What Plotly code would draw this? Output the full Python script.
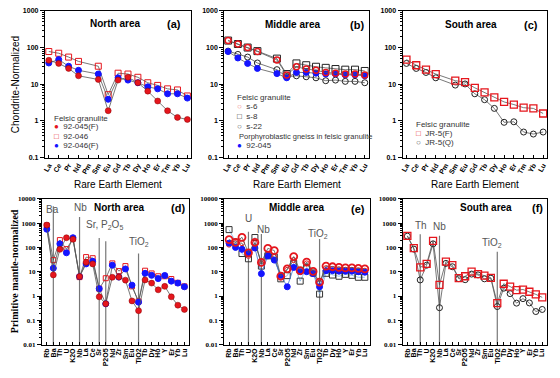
import numpy as np
import plotly.graph_objects as go

W, H = 560, 378

ree = ['La','Ce','Pr','Nd','Pm','Sm','Eu','Gd','Tb','Dy','Ho','Er','Tm','Yb','Lu']
spider = ['Rb','Ba','Th','U','K2O','Nb','La','Ce','Sr','P2O5','Nd','Zr','Sm','Eu','TiO2',
          'Tb','Dy','Ho','Y','Er','Yb','Lu']

# (a) North area, chondrite-normalized
a_92045F = [45,37,27,17,None,13.5,1.9,13,15.5,11,6.5,3.5,1.9,1.25,1.1]
a_92046  = [78,70,55,42,None,31,5.2,20,19,15.5,11,9.3,7.5,7,4.8]
a_92046F = [38,47,31,24,None,19,3.9,15,13,11,8.5,7.5,5.5,5.5,4.2]
# (b) Middle area
b_s6    = [155,125,100,78,None,46,18,30,26,24,21,20,19,19,18]
b_s8    = [155,125,100,80,None,50,19,37,33,30,28,26,25,25,23]
b_s22   = [80,65,55,38,None,25,16,17,16,15,12.5,13,12,12,11]
b_92045 = [78,52,37,27,None,19.5,15,21,21,20,19,19,18,18,17]
# (c) South area
c_JR5F = [47,33,25,19,None,12.5,11.5,8,6,4.4,3.3,2.8,2.3,2.2,1.6]
c_JR5Q = [37,27,21,15,None,9.5,10.2,5.5,3.8,2.2,0.92,0.95,0.5,0.44,0.5]

# (d) North area, primitive mantle-normalized
d_92045F = [830,7.4,83,250,215,6.3,24.5,21,0.93,0.48,5.9,6,4.5,0.63,0.25,4.6,3.4,1.8,2.5,0.93,0.42,0.28]
d_92046  = [800,30,200,85,230,6,40,36,2,5.4,22,10.6,17,2.5,0.6,11,8.5,6.5,6.5,5,3.5,2.5]
d_92046F = [560,14,140,60,250,6.3,21,27,2,0.48,18.5,6,13,2.8,0.56,8.6,7.1,5.2,7,4.1,3.4,2.4]
# (e) Middle area
e_s6    = [210,160,260,60,160,24,91,74,6.5,13,42,11,25,10.3,3.7,17,16,15,14.5,14.5,13.6,13]
e_s8    = [540,165,56,34,255,17,45,40,5.1,6.9,22,4.1,15,8.9,1.2,8.6,7.3,6.5,7.8,7.1,5.9,5.9]
e_s22   = [130,150,150,45,150,22,50,40,6,12,30,10,22,9,3.5,14,13,12.5,12,12,11.5,11]
e_92045 = [150,100,83,56,94,8.3,45,30,7.1,2.4,15,10,10,8.3,2.4,11,11,10.5,10.5,10.5,10,9.5]
# (f) South area
f_JR5F = [300,94,15,21,185,2.9,26,18.5,5.4,6.5,10,8,6.9,5.6,0.51,3.2,2.45,1.74,1.85,1.5,1.17,0.88]
f_JR5Q = [290,85,4.6,18.5,140,0.33,22,16,5.2,4.7,8,7.4,5.1,5.4,0.37,2.1,1.25,0.51,0.78,0.52,0.23,0.28]

# reference (anomaly) lines: element, top value
d_marks = [('Ba', 4900), ('Nb', 1800), ('Sr', 245), ('P2O5', 180), ('TiO2', 56)]
e_marks = [('U', 440), ('Nb', 355), ('TiO2', 220)]
f_marks = [('Th', 350), ('Nb', 300), ('TiO2', 66)]

RED = '#e5161d'
DRED = '#8a0000'
BLUE = '#1414ff'
LINE = '#555555'

fig = go.Figure()

def px_x(x): return x / W
def px_y(y): return 1 - y / H

# panel domains in pixels: (left, right, top, bottom)
panels = {
    1: (43, 190, 7, 157),
    2: (223, 368, 7, 157),
    3: (402, 547, 7, 157),
    4: (40, 188, 199, 348),
    5: (223, 369, 199, 348),
    6: (402, 547, 199, 348),
}

def add_series(k, cats, vals, symbol, color, lcolor=None, size=6, lw=0.8, mlw=1.0, linecol=LINE):
    xs = list(range(len(cats)))
    xa = 'x%d' % k if k > 1 else 'x'
    ya = 'y%d' % k if k > 1 else 'y'
    fig.add_trace(go.Scatter(x=xs, y=vals, mode='lines', connectgaps=True,
                             line=dict(color=linecol, width=lw), showlegend=False,
                             xaxis=xa, yaxis=ya))
    fig.add_trace(go.Scatter(x=xs, y=vals, mode='markers', showlegend=False,
                             marker=dict(symbol=symbol, size=size, color=color,
                                         line=dict(color=lcolor or color, width=mlw)),
                             xaxis=xa, yaxis=ya))

def add_marks(k, marks):
    for el, top in marks:
        i = spider.index(el)
        fig.add_trace(go.Scatter(x=[i, i], y=[0.01, top], mode='lines', showlegend=False,
                                 line=dict(color='#777777', width=1.2),
                                 xaxis='x%d' % k, yaxis='y%d' % k))

# vertical lines first (behind)
add_marks(4, d_marks)
add_marks(5, e_marks)
add_marks(6, f_marks)

# (a)
add_series(1, ree, a_92046, 'square-open', RED, size=6)
add_series(1, ree, a_92046F, 'circle', BLUE, size=6)
add_series(1, ree, a_92045F, 'circle', RED, lcolor=DRED, size=6, mlw=0.5)
# (b)
add_series(2, ree, b_s8, 'square-open', '#222222', size=7)
add_series(2, ree, b_s22, 'circle-open', '#222222', size=6)
add_series(2, ree, b_92045, 'circle', BLUE, size=6)
add_series(2, ree, b_s6, 'circle-open', RED, size=6, mlw=1.5)
# (c)
add_series(3, ree, c_JR5Q, 'circle-open', '#222222', size=6)
add_series(3, ree, c_JR5F, 'square-open', RED, size=7, mlw=1.3)
# (d)
add_series(4, spider, d_92046, 'square-open', RED, size=5)
add_series(4, spider, d_92046F, 'circle', BLUE, size=6)
add_series(4, spider, d_92045F, 'circle', RED, lcolor=DRED, size=6, mlw=0.5)
# (e)
add_series(5, spider, e_s8, 'square-open', '#333333', size=6, linecol='#7fb2e5')
add_series(5, spider, e_s22, 'circle-open', RED, size=5, mlw=1.0)
add_series(5, spider, e_92045, 'circle', BLUE, size=6, linecol='#3d6fd6')
add_series(5, spider, e_s6, 'circle-open', RED, size=7, mlw=1.8)
# (f)
add_series(6, spider, f_JR5Q, 'circle-open', '#222222', size=6)
add_series(6, spider, f_JR5F, 'square-open', RED, size=7, mlw=1.3)

def minor_vals(lo, hi):
    out = []
    for e in range(lo, hi):
        for m in range(2, 10):
            out.append(m * 10.0 ** e)
    return out

top_font = dict(family='Liberation Sans, Arial', size=7, color='black', weight='bold')
bot_font = dict(family='Liberation Serif, Times New Roman', size=7, color='black', weight='bold')

layout = dict(width=W, height=H, margin=dict(l=0, r=0, t=0, b=0),
              paper_bgcolor='white', plot_bgcolor='white', showlegend=False)

for k, (l, r, t, b) in panels.items():
    xn = 'xaxis' if k == 1 else 'xaxis%d' % k
    yn = 'yaxis' if k == 1 else 'yaxis%d' % k
    top = k <= 3
    cats = ree if top else spider
    n = len(cats)
    pad = 0.4 if top else 0.75
    layout[xn] = dict(domain=[px_x(l), px_x(r)], range=[-pad, n - 1 + pad],
                      anchor='y' if k == 1 else 'y%d' % k,
                      tickmode='array', tickvals=list(range(n)), ticktext=cats,
                      tickangle=-60 if top else -90,
                      ticks='inside', ticklen=3, tickcolor='black', tickwidth=1,
                      showline=True, linecolor='black', linewidth=1, mirror=True,
                      showgrid=False, zeroline=False,
                      tickfont=dict(family='Liberation Sans, Arial', size=7, color='black', weight='bold'))
    if top:
        yr, tv, tt = [-1, 3], [0.1, 1, 10, 100, 1000], ['0.1', '1', '10', '100', '1000']
        mv = minor_vals(-1, 3)
        tf = top_font
    else:
        yr, tv, tt = [-2, 4], [0.01, 0.1, 1, 10, 100, 1000, 10000], \
            ['0.01', '0.1', '1', '10', '100', '1000', '10000']
        mv = minor_vals(-2, 4)
        tf = bot_font
    layout[yn] = dict(domain=[px_y(b), px_y(t)], type='log', range=yr,
                      anchor='x' if k == 1 else 'x%d' % k,
                      tickmode='array', tickvals=tv, ticktext=tt,
                      ticks='outside', ticklen=4, tickcolor='black', tickwidth=1,
                      minor=dict(tickmode='array', tickvals=mv, ticks='outside', ticklen=2,
                                 tickcolor='black', tickwidth=0.8, showgrid=False),
                      showline=True, linecolor='black', linewidth=1, mirror=True,
                      showgrid=False, zeroline=False, tickfont=tf)

fig.update_layout(**layout)

ann = []
def A(x, y, text, size=10, bold=False, color='black', family='Liberation Sans, Arial',
      xanchor='center', yanchor='middle', angle=0):
    ann.append(dict(x=px_x(x), y=px_y(y), xref='paper', yref='paper', text=text,
                    showarrow=False, xanchor=xanchor, yanchor=yanchor, textangle=angle,
                    font=dict(size=size, color=color, family=family,
                              weight='bold' if bold else 'normal')))

# panel titles
A(113, 20, 'North area', 10, True); A(173, 20, '(a)', 11, True)
A(292, 21, 'Middle area', 10, True); A(356, 21, '(b)', 11, True)
A(471, 21, 'South area', 10, True); A(531, 21, '(c)', 11, True)
A(117, 208, 'North area', 10, True); A(177, 208, '(d)', 11, True)
A(296, 208, 'Middle area', 10, True); A(357, 209, '(e)', 11, True)
A(486, 208, 'South area', 10, True); A(537, 208, '(f)', 11, True)

# x titles of top row
for cx in (116, 296, 475):
    A(cx, 184, 'Rare Earth Element', 10)
# y titles
A(13, 82, 'Chondrite-Normalized', 10, angle=-90)
A(12, 273, 'Primitive mantle-normalized', 10, True, family='Liberation Serif, Times New Roman', angle=-90)

# anomaly labels
G = '#555555'
A(51, 210, 'Ba', 10, color=G); A(79, 208, 'Nb', 10, color=G)
A(103, 226, 'Sr, P<sub>2</sub>O<sub>5</sub>', 10, color=G); A(137, 243, 'TiO<sub>2</sub>', 10, color=G)
A(247, 219, 'U', 10, color=G); A(262, 230, 'Nb', 10, color=G); A(317, 235, 'TiO<sub>2</sub>', 10, color=G)
A(420, 226, 'Th', 10, color=G); A(439, 227, 'Nb', 10, color=G); A(492, 244, 'TiO<sub>2</sub>', 10, color=G)

# legends (text keys)
LG = '#333333'
def key(sym, col):
    return '<span style="color:%s">%s</span>' % (col, sym)
A(50, 117, 'Felsic granulite', 8, color=LG, xanchor='left')
A(50, 125, key('●', RED) + '  92-045(F)', 8, color=LG, xanchor='left')
A(50, 135, key('□', RED) + '  92-046', 8, color=LG, xanchor='left')
A(50, 145, key('●', BLUE) + '  92-046(F)', 8, color=LG, xanchor='left')

A(234, 96, 'Felsic granulite', 8, color=LG, xanchor='left')
A(234, 105, key('○', '#f08080') + '  s-6', 8, color=LG, xanchor='left')
A(234, 115, key('□', '#222222') + '  s-8', 8, color=LG, xanchor='left')
A(234, 125, key('○', '#555555') + '  s-22', 8, color=LG, xanchor='left')
A(236, 135, 'Porphyroblastic gneiss in felsic granulite', 7.5, color=LG, xanchor='left')
A(234, 145, key('●', BLUE) + '  92-045', 8, color=LG, xanchor='left')

A(413, 123, 'Felsic granulite', 8, color=LG, xanchor='left')
A(413, 132, key('□', RED) + '  JR-5(F)', 8, color=LG, xanchor='left')
A(413, 142, key('○', '#555555') + '  JR-5(Q)', 8, color=LG, xanchor='left')

fig.update_layout(annotations=ann)
fig.write_html('out.html', config={'displayModeBar': False},
               post_script="document.body.style.margin='0px';")
